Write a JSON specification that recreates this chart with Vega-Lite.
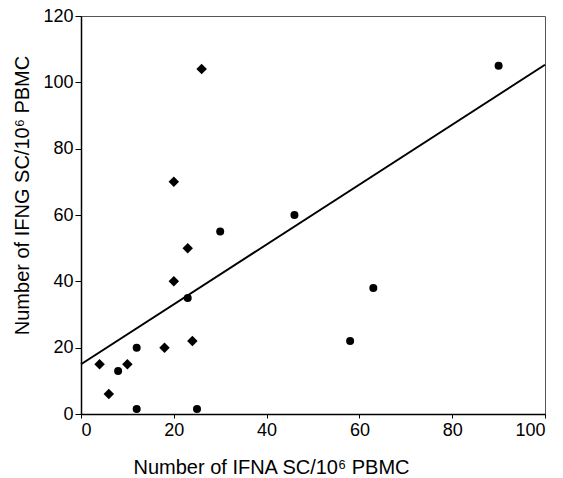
{
  "$schema": "https://vega.github.io/schema/vega-lite/v6.json",
  "autosize": "none",
  "width": 464,
  "height": 398,
  "padding": {"left": 81, "top": 16, "right": 18, "bottom": 64},
  "config": {
    "font": "Liberation Sans",
    "view": {"stroke": "#555", "strokeWidth": 1},
    "axis": {
      "grid": false,
      "domainColor": "black",
      "domainWidth": 1.5,
      "tickColor": "black",
      "tickWidth": 1,
      "tickSize": 5,
      "labelFont": "Liberation Sans",
      "labelFontSize": 18,
      "labelColor": "black",
      "titleFont": "Liberation Sans",
      "titleFontSize": 20,
      "titleFontWeight": "normal",
      "titleColor": "black"
    }
  },
  "datasets": {
    "pts": [
      {"ifna": 26, "ifng": 104, "group": "diamond"},
      {"ifna": 20, "ifng": 70, "group": "diamond"},
      {"ifna": 23, "ifng": 50, "group": "diamond"},
      {"ifna": 20, "ifng": 40, "group": "diamond"},
      {"ifna": 24, "ifng": 22, "group": "diamond"},
      {"ifna": 18, "ifng": 20, "group": "diamond"},
      {"ifna": 4, "ifng": 15, "group": "diamond"},
      {"ifna": 10, "ifng": 15, "group": "diamond"},
      {"ifna": 6, "ifng": 6, "group": "diamond"},
      {"ifna": 90, "ifng": 105, "group": "circle"},
      {"ifna": 46, "ifng": 60, "group": "circle"},
      {"ifna": 30, "ifng": 55, "group": "circle"},
      {"ifna": 23, "ifng": 35, "group": "circle"},
      {"ifna": 12, "ifng": 20, "group": "circle"},
      {"ifna": 8, "ifng": 13, "group": "circle"},
      {"ifna": 12, "ifng": 1.5, "group": "circle"},
      {"ifna": 25, "ifng": 1.5, "group": "circle"},
      {"ifna": 63, "ifng": 38, "group": "circle"},
      {"ifna": 58, "ifng": 22, "group": "circle"}
    ],
    "fit": [
      {"ifna": 0, "ifng": 15},
      {"ifna": 100, "ifng": 105.3}
    ]
  },
  "layer": [
    {
      "data": {"name": "fit"},
      "mark": {"type": "line", "color": "black", "strokeWidth": 2},
      "encoding": {
        "x": {"field": "ifna", "type": "quantitative"},
        "y": {"field": "ifng", "type": "quantitative"}
      }
    },
    {
      "data": {"name": "pts"},
      "mark": {"type": "point", "filled": true, "opacity": 1, "color": "black"},
      "encoding": {
        "x": {
          "field": "ifna", "type": "quantitative",
          "scale": {"domain": [0, 100], "nice": false, "zero": true},
          "axis": {"values": [0, 20, 40, 60, 80, 100], "tickSize": 4, "labelPadding": 3, "title": "Number of IFNA SC/10⁶ PBMC", "titleX": 190, "titleY": 59, "titleBaseline": "alphabetic", "titleAlign": "center", "titleAnchor": null}
        },
        "y": {
          "field": "ifng", "type": "quantitative",
          "scale": {"domain": [0, 120], "nice": false},
          "axis": {"values": [0, 20, 40, 60, 80, 100, 120], "tickSize": 6, "labelPadding": 2, "title": "Number of IFNG SC/10⁶ PBMC", "titleX": -53, "titleY": 179, "titleAlign": "center", "titleAnchor": null, "titleBaseline": "alphabetic"}
        },
        "shape": {
          "field": "group", "type": "nominal",
          "scale": {"domain": ["diamond", "circle"], "range": ["diamond", "circle"]},
          "legend": null
        },
        "size": {
          "field": "group", "type": "nominal",
          "scale": {"domain": ["diamond", "circle"], "range": [110, 64]},
          "legend": null
        }
      }
    }
  ]
}
